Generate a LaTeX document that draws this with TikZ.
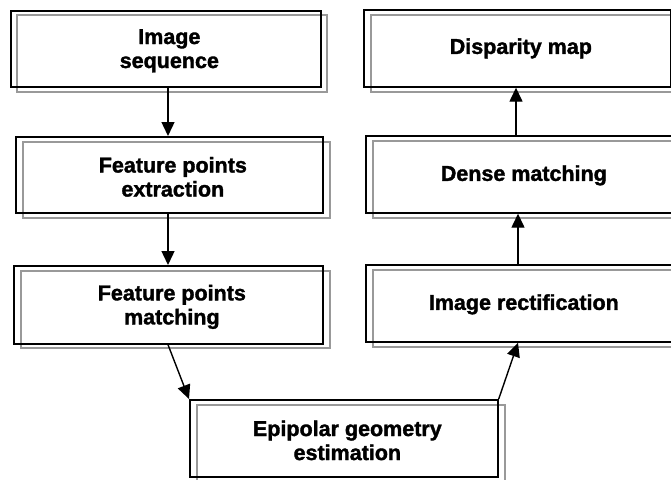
\documentclass[tikz,border=0pt]{standalone}
\usepackage{fontspec}
\setmainfont[FakeBold=1.6]{Liberation Sans}
\usetikzlibrary{arrows.meta}
\tikzset{
  blackbox/.style={draw=black, line width=1.7pt, inner sep=0pt, anchor=north west, minimum height=76pt},
  graybox/.style={draw=black!40, line width=1.7pt},
  lbl/.style={font=\fontsize{21.5}{24}\selectfont\bfseries, align=center, inner sep=0pt},
  arr/.style={draw=black, line width=1.4pt, -{Triangle[length=14pt,width=13pt]}}
}
\begin{document}
\begin{tikzpicture}[x=1pt,y=-1pt]
\useasboundingbox (0,0) rectangle (671,479);
\begin{scope}
\clip (0,0) rectangle (671,479);
% gray copies first
\coordinate (g1a) at (17,15);  \coordinate (g1b) at (327,92);
\coordinate (g2a) at (23,142); \coordinate (g2b) at (330,218);
\coordinate (g3a) at (21,271); \coordinate (g3b) at (330,348);
\coordinate (g4a) at (371,15); \coordinate (g4b) at (677,92);
\coordinate (g5a) at (373,141);\coordinate (g5b) at (682,218);
\coordinate (g6a) at (373,270);\coordinate (g6b) at (682,347);
\coordinate (g7a) at (197,405);\coordinate (g7b) at (505,483);
\foreach \i in {1,...,7}{\draw[graybox] (g\i a) rectangle (g\i b);}
% black boxes
\node[blackbox, minimum width=310pt] (b1) at (10,10) {};
\node[blackbox, minimum width=307pt] (b2) at (15,136) {};
\node[blackbox, minimum width=309pt, minimum height=78pt] (b3) at (13,265) {};
\node[blackbox, minimum width=307pt, minimum height=77pt] (b4) at (363,9) {};
\node[blackbox, minimum width=309pt, minimum height=77pt] (b5) at (365,135) {};
\node[blackbox, minimum width=309pt, minimum height=77pt] (b6) at (365,264) {};
\node[blackbox, minimum width=308pt, minimum height=77pt] (b7) at (189,399) {};
\end{scope}
% labels
\node[lbl] (t1) at ([xshift=3.5pt,yshift=-2pt]b1.center) {Image\\sequence};
\node[lbl] (t2) at ([xshift=3.5pt,yshift=-2pt]b2.center) {Feature points\\extraction};
\node[lbl] (t3) at ([xshift=3.5pt,yshift=-2pt]b3.center) {Feature points\\matching};
\node[lbl] (t4) at ([xshift=3.5pt,yshift=0pt]b4.center) {Disparity map};
\node[lbl] (t5) at ([xshift=3.5pt,yshift=-1pt]b5.center) {Dense matching};
\node[lbl] (t6) at ([xshift=3.5pt,yshift=-1pt]b6.center) {Image rectification};
\node[lbl] (t7) at ([xshift=3.5pt,yshift=-2pt]b7.center) {Epipolar geometry\\estimation};
% connectors
\draw[arr] ([xshift=158pt]b1.south west) -- ([xshift=153pt]b2.north west);
\draw[arr] ([xshift=153pt]b2.south west) -- ([xshift=155pt]b3.north west);
\draw[arr] ([xshift=155pt]b3.south west) -- (b7.north west);
\draw[arr] (b7.north east) -- ([xshift=153pt]b6.south west);
\draw[arr] ([xshift=153pt]b6.north west) -- ([xshift=153pt]b5.south west);
\draw[arr] ([xshift=151pt]b5.north west) -- ([xshift=153pt]b4.south west);
\end{tikzpicture}
\end{document}
